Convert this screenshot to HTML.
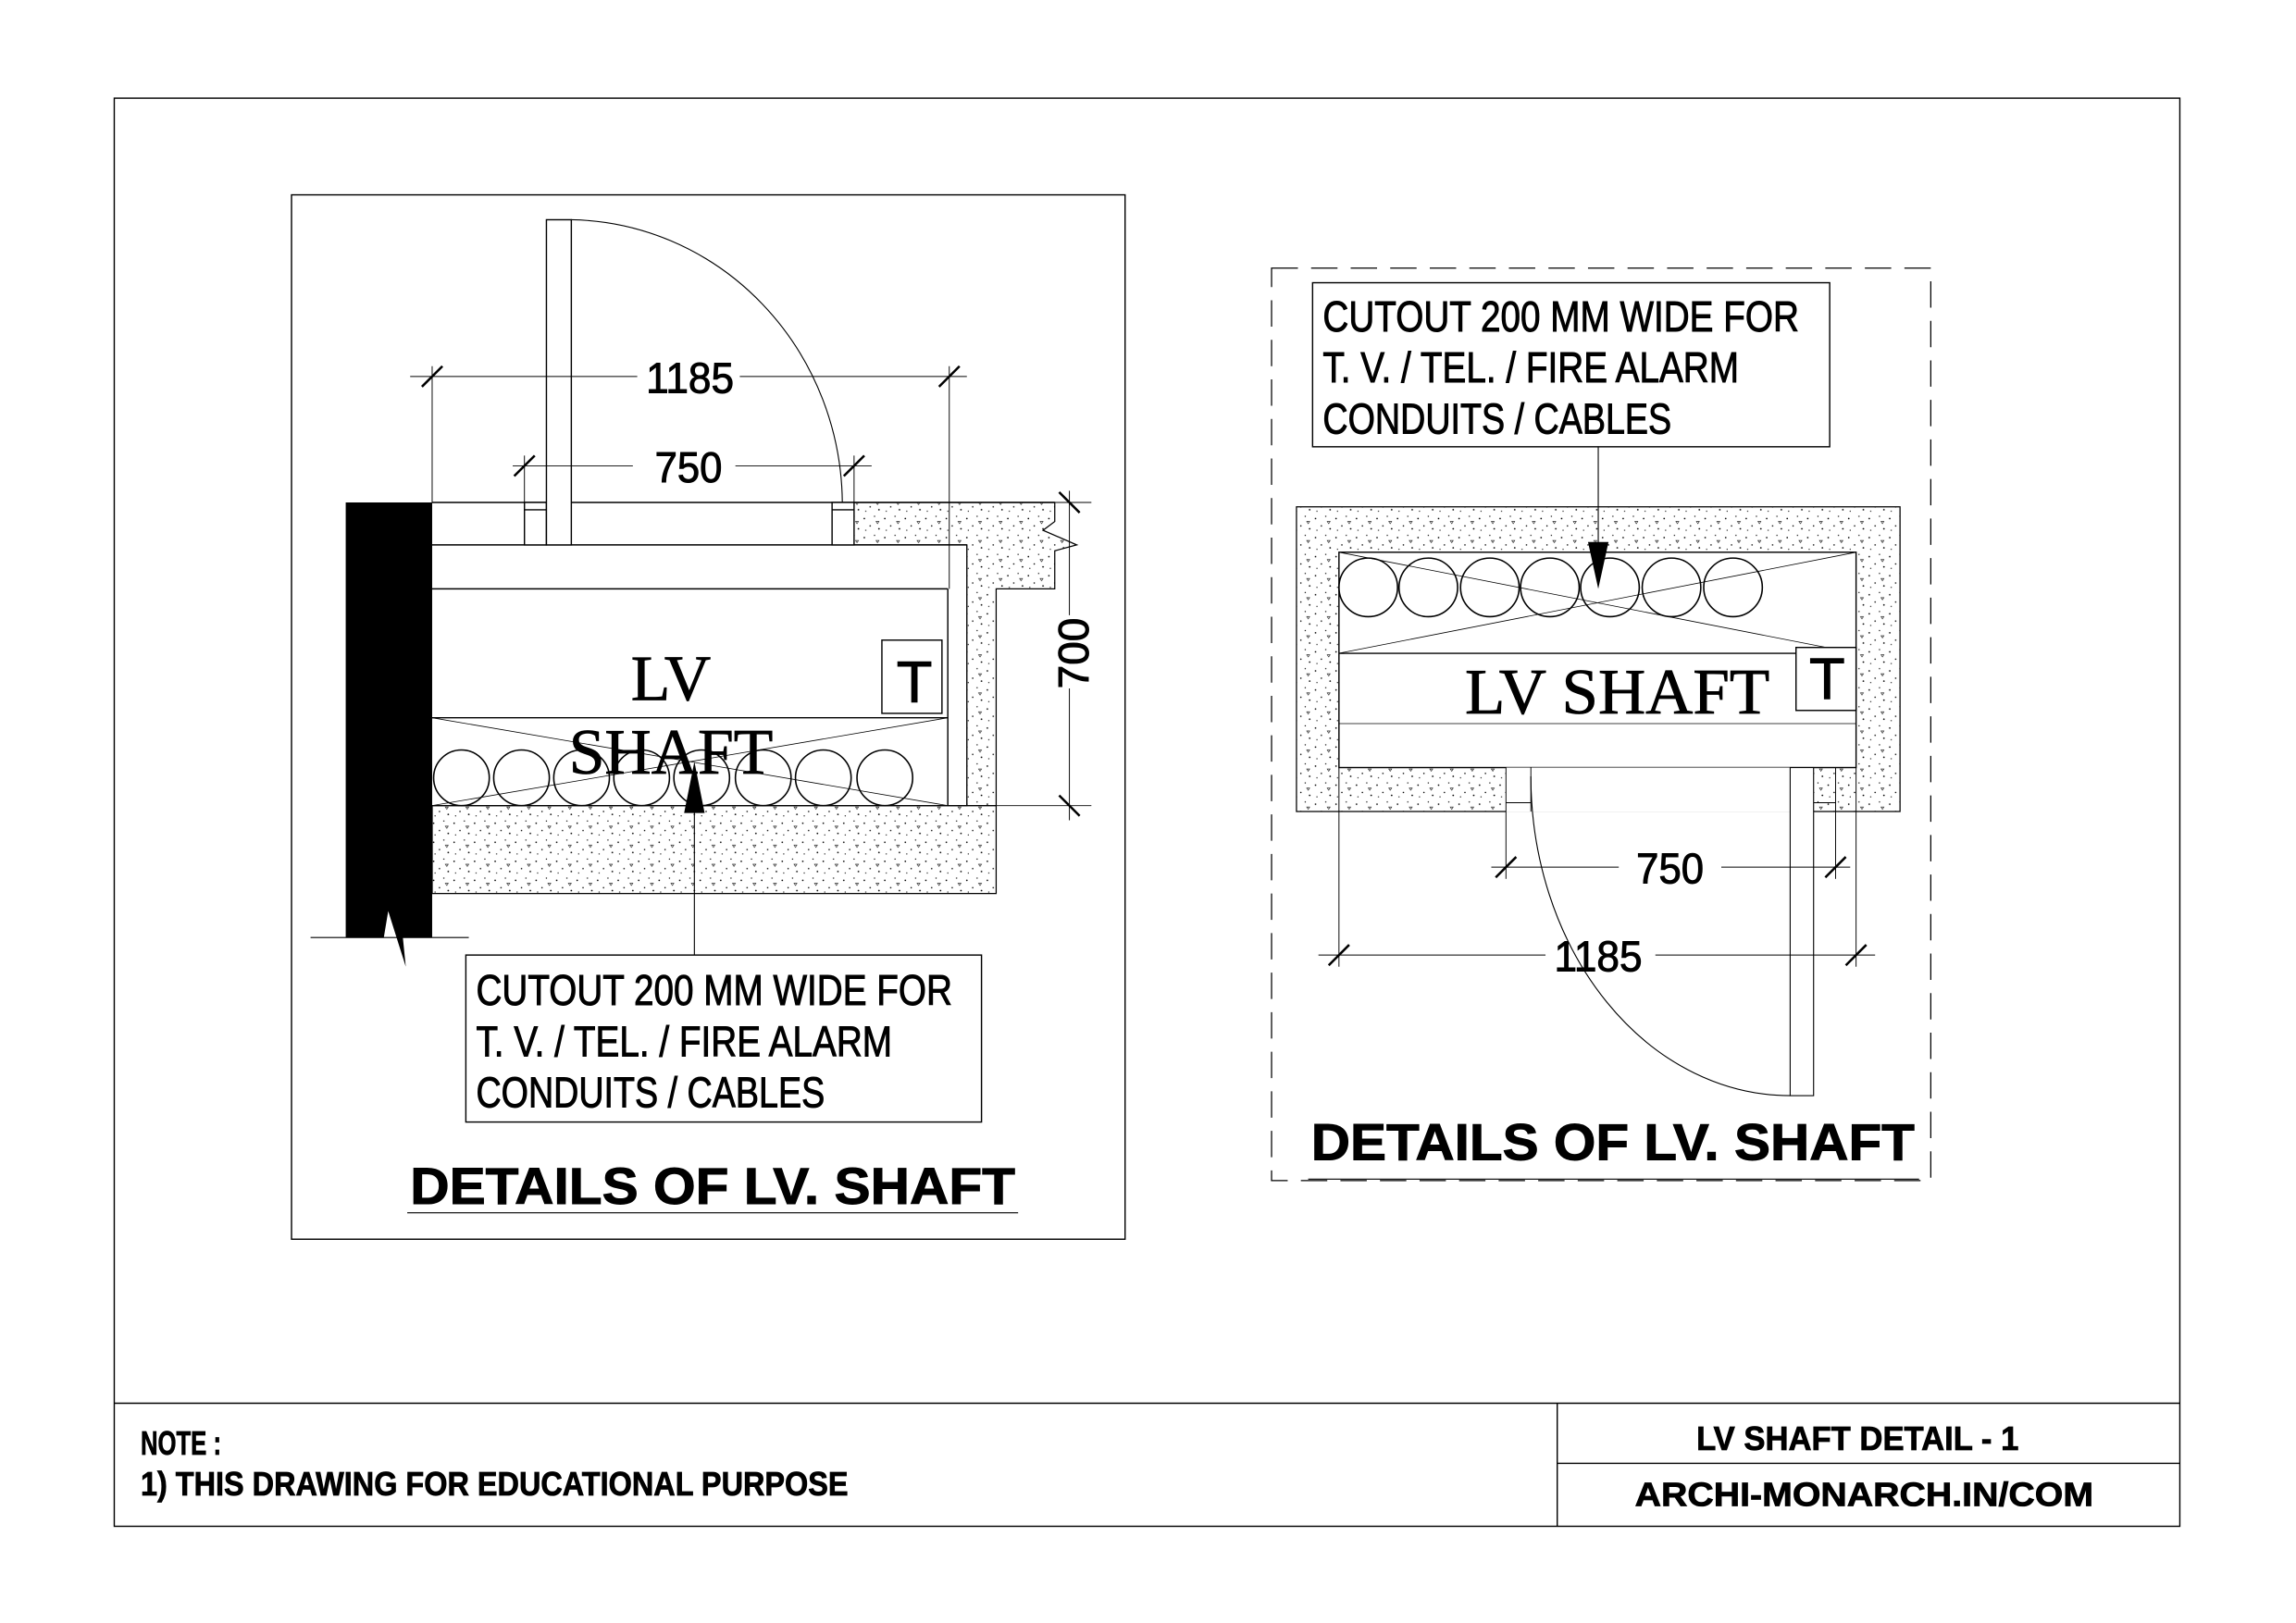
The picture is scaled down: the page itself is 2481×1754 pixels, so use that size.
<!DOCTYPE html>
<html><head><meta charset="utf-8"><style>
html,body{margin:0;padding:0;background:#fff;}
svg{display:block;}
</style></head><body>
<svg width="2481" height="1754" viewBox="0 0 1567.3 1108" xmlns="http://www.w3.org/2000/svg">
<defs>
<pattern id="conc" width="14" height="13" patternUnits="userSpaceOnUse">
<rect width="14" height="13" fill="#fff"/>
<circle cx="2" cy="3" r="0.55" fill="#000"/>
<circle cx="9" cy="1.5" r="0.45" fill="#000"/>
<circle cx="6" cy="8" r="0.5" fill="#000"/>
<circle cx="12" cy="10" r="0.55" fill="#000"/>
<circle cx="3" cy="11" r="0.4" fill="#000"/>
<path d="M10 5 l2 0 l-1 1.5 z" fill="none" stroke="#000" stroke-width="0.35"/>
</pattern>
</defs>
<rect width="1567.3" height="1108" fill="#fff"/>
<g fill="none" stroke="#000" stroke-width="0.9">
<rect x="78" y="67" width="1410" height="975"/>
<line x1="78" y1="958" x2="1488" y2="958"/>
<line x1="1063" y1="958" x2="1063" y2="1042"/>
<line x1="1063" y1="999" x2="1488" y2="999"/>

<rect x="199" y="133" width="569" height="713"/>
<path d="M583,343 L720,343 L720,356 L712,362 L735,372 L720,376 L720,402 L680,402 L680,610 L295,610 L295,550 L660,550 L660,372 L583,372 Z" fill="url(#conc)" stroke-width="0.8"/>
<rect x="295" y="372" width="352" height="178" fill="#fff" stroke="none"/>
<path d="M236,343 L295,343 L295,640 L275,640 L277,660 L265,622 L262,640 L236,640 Z" fill="#000" stroke="none"/>
<line x1="212" y1="640" x2="320" y2="640" stroke-width="0.7"/>
<line x1="295" y1="343" x2="720" y2="343"/>
<line x1="295" y1="372" x2="660" y2="372"/>
<line x1="295" y1="402" x2="647" y2="402"/>
<line x1="647" y1="402" x2="647" y2="550"/>
<line x1="660" y1="372" x2="660" y2="550" stroke-width="0.6"/>
<line x1="295" y1="490" x2="647" y2="490"/>
<line x1="295" y1="550" x2="680" y2="550"/>
<line x1="295" y1="490" x2="647" y2="550" stroke-width="0.5"/>
<line x1="295" y1="550" x2="647" y2="490" stroke-width="0.5"/>
<g stroke-width="1">
<ellipse cx="315" cy="531" rx="19" ry="19"/>
<ellipse cx="356" cy="531" rx="19" ry="19"/>
<ellipse cx="397" cy="531" rx="19" ry="19"/>
<ellipse cx="438" cy="531" rx="19" ry="19"/>
<ellipse cx="479" cy="531" rx="19" ry="19"/>
<ellipse cx="521" cy="531" rx="19" ry="19"/>
<ellipse cx="562" cy="531" rx="19" ry="19"/>
<ellipse cx="604" cy="531" rx="19" ry="19"/>
</g>
<rect x="358" y="343" width="15" height="29" fill="#fff"/>
<line x1="358" y1="348" x2="373" y2="348"/>
<rect x="568" y="343" width="15" height="29" fill="#fff"/>
<line x1="568" y1="348" x2="583" y2="348"/>
<rect x="373" y="150" width="17" height="222" fill="#fff"/>
<path d="M390,150 A 188 195 0 0 1 575,343" stroke-width="0.7"/>
<line x1="280" y1="257" x2="435" y2="257" stroke-width="0.6"/>
<line x1="505" y1="257" x2="660" y2="257" stroke-width="0.6"/>
<line x1="295" y1="250" x2="295" y2="343" stroke-width="0.6"/>
<line x1="648" y1="250" x2="648" y2="402" stroke-width="0.6"/>
<line x1="288" y1="264" x2="302" y2="250" stroke-width="1.6"/>
<line x1="641" y1="264" x2="655" y2="250" stroke-width="1.6"/>
<line x1="350" y1="318" x2="432" y2="318" stroke-width="0.6"/>
<line x1="502" y1="318" x2="595" y2="318" stroke-width="0.6"/>
<line x1="358" y1="311" x2="358" y2="343" stroke-width="0.6"/>
<line x1="583" y1="311" x2="583" y2="343" stroke-width="0.6"/>
<line x1="351" y1="325" x2="365" y2="311" stroke-width="1.6"/>
<line x1="576" y1="325" x2="590" y2="311" stroke-width="1.6"/>
<line x1="730" y1="335" x2="730" y2="420" stroke-width="0.6"/>
<line x1="730" y1="470" x2="730" y2="560" stroke-width="0.6"/>
<line x1="720" y1="343" x2="745" y2="343" stroke-width="0.6"/>
<line x1="680" y1="550" x2="745" y2="550" stroke-width="0.6"/>
<line x1="723" y1="336" x2="737" y2="350" stroke-width="1.6"/>
<line x1="723" y1="543" x2="737" y2="557" stroke-width="1.6"/>
<rect x="602" y="437" width="41" height="50" fill="#fff"/>
<line x1="474" y1="550" x2="474" y2="652" stroke-width="0.7"/>
<rect x="318" y="652" width="352" height="114" fill="#fff"/>
<line x1="278" y1="828" x2="695" y2="828" stroke-width="0.7"/>

<rect x="868" y="183" width="450" height="623" stroke-dasharray="18,9" stroke-width="0.8"/>
<rect x="885" y="346" width="412" height="208" fill="url(#conc)" stroke-width="0.8"/>
<rect x="914" y="377" width="353" height="147" fill="#fff"/>
<line x1="914" y1="446" x2="1267" y2="446"/>
<line x1="914" y1="494" x2="1267" y2="494" stroke-width="0.5"/>
<line x1="914" y1="377" x2="1267" y2="446" stroke-width="0.5"/>
<line x1="914" y1="446" x2="1267" y2="377" stroke-width="0.5"/>
<g stroke-width="1">
<ellipse cx="934" cy="401" rx="20" ry="20"/>
<ellipse cx="975" cy="401" rx="20" ry="20"/>
<ellipse cx="1017" cy="401" rx="20" ry="20"/>
<ellipse cx="1058" cy="401" rx="20" ry="20"/>
<ellipse cx="1099" cy="401" rx="20" ry="20"/>
<ellipse cx="1141" cy="401" rx="20" ry="20"/>
<ellipse cx="1183" cy="401" rx="20" ry="20"/>
</g>
<rect x="1226" y="442" width="41" height="43" fill="#fff"/>
<rect x="1028" y="524" width="210" height="30.5" fill="#fff" stroke="none"/>
<line x1="1028" y1="524" x2="1028" y2="554" stroke-width="0.6"/>
<line x1="1028" y1="548" x2="1045" y2="548" stroke-width="0.6"/>
<line x1="1045" y1="524" x2="1045" y2="554" stroke-width="0.6"/>
<rect x="1222" y="524" width="16" height="224" fill="#fff" stroke-width="0.7"/>
<line x1="1238" y1="548" x2="1253" y2="548" stroke-width="0.6"/>
<line x1="1253" y1="524" x2="1253" y2="600" stroke-width="0.6"/>
<path d="M1045,530 A 177 218 0 0 0 1222,748" stroke-width="0.7"/>
<line x1="1028" y1="554" x2="1028" y2="600" stroke-width="0.6"/>
<line x1="1018" y1="592" x2="1105" y2="592" stroke-width="0.6"/>
<line x1="1175" y1="592" x2="1263" y2="592" stroke-width="0.6"/>
<line x1="1021" y1="599" x2="1035" y2="585" stroke-width="1.6"/>
<line x1="1246" y1="599" x2="1260" y2="585" stroke-width="1.6"/>
<line x1="914" y1="524" x2="914" y2="660" stroke-width="0.6"/>
<line x1="1267" y1="524" x2="1267" y2="660" stroke-width="0.6"/>
<line x1="900" y1="652" x2="1055" y2="652" stroke-width="0.6"/>
<line x1="1130" y1="652" x2="1280" y2="652" stroke-width="0.6"/>
<line x1="907" y1="659" x2="921" y2="645" stroke-width="1.6"/>
<line x1="1260" y1="659" x2="1274" y2="645" stroke-width="1.6"/>
<rect x="896" y="193" width="353" height="112" fill="#fff"/>
<line x1="1091" y1="305" x2="1091" y2="372" stroke-width="0.7"/>
<line x1="893" y1="805" x2="1310" y2="805" stroke-width="0.7"/>
</g>
<polygon points="474,520 467,555 481,555" fill="#000"/>
<polygon points="1091,402 1084,370 1098,370" fill="#000"/>

<g font-family="'Liberation Sans Narrow','Liberation Sans',sans-serif" fill="#000" stroke="#000" stroke-width="0.6" font-size="29">
<text x="441" y="268" textLength="60" lengthAdjust="spacingAndGlyphs">1185</text>
<text x="447" y="329" textLength="46" lengthAdjust="spacingAndGlyphs">750</text>
<text transform="translate(743,446) rotate(-90)" text-anchor="middle">700</text>
<text x="1117" y="603" textLength="46" lengthAdjust="spacingAndGlyphs">750</text>
<text x="1061" y="663" textLength="60" lengthAdjust="spacingAndGlyphs">1185</text>
<text x="612" y="479" font-family="'Liberation Sans',sans-serif" font-size="40">T</text>
<text x="1235" y="477" font-family="'Liberation Sans',sans-serif" font-size="40">T</text>
<text x="325" y="686" textLength="325" lengthAdjust="spacingAndGlyphs">CUTOUT 200 MM WIDE  FOR</text>
<text x="325" y="721" textLength="284" lengthAdjust="spacingAndGlyphs">T. V. / TEL. / FIRE ALARM</text>
<text x="325" y="756" textLength="238" lengthAdjust="spacingAndGlyphs">CONDUITS / CABLES</text>
<text x="903" y="226" textLength="325" lengthAdjust="spacingAndGlyphs">CUTOUT 200 MM WIDE  FOR</text>
<text x="903" y="261" textLength="284" lengthAdjust="spacingAndGlyphs">T. V. / TEL. / FIRE ALARM</text>
<text x="903" y="296" textLength="238" lengthAdjust="spacingAndGlyphs">CONDUITS / CABLES</text>
</g>
<g font-family="'Liberation Serif',serif" fill="#000" stroke="#000" stroke-width="0.5" font-size="44">
<text x="458" y="478" text-anchor="middle">LV</text>
<text x="458" y="528" text-anchor="middle">SHAFT</text>
<text x="1000" y="487" textLength="208" lengthAdjust="spacingAndGlyphs">LV SHAFT</text>
</g>
<g font-family="'Liberation Sans',sans-serif" font-weight="bold" fill="#000" stroke="#000" stroke-width="0.6" font-size="35">
<text x="280" y="822" textLength="413" lengthAdjust="spacingAndGlyphs">DETAILS OF LV. SHAFT</text>
<text x="895" y="792" textLength="412" lengthAdjust="spacingAndGlyphs">DETAILS OF LV. SHAFT</text>
</g>
<g font-family="'Liberation Sans Narrow','Liberation Sans',sans-serif" font-weight="bold" fill="#000" stroke="#000" stroke-width="0.5" font-size="23">
<text x="96" y="993" textLength="55" lengthAdjust="spacingAndGlyphs">NOTE :</text>
<text x="96" y="1021" textLength="483" lengthAdjust="spacingAndGlyphs">1) THIS DRAWING FOR EDUCATIONAL PURPOSE</text>
<text x="1158" y="990" textLength="220" lengthAdjust="spacingAndGlyphs">LV SHAFT DETAIL - 1</text>
<text x="1116" y="1028" textLength="313" lengthAdjust="spacingAndGlyphs">ARCHI-MONARCH.IN/COM</text>
</g>
</svg>
</body></html>
